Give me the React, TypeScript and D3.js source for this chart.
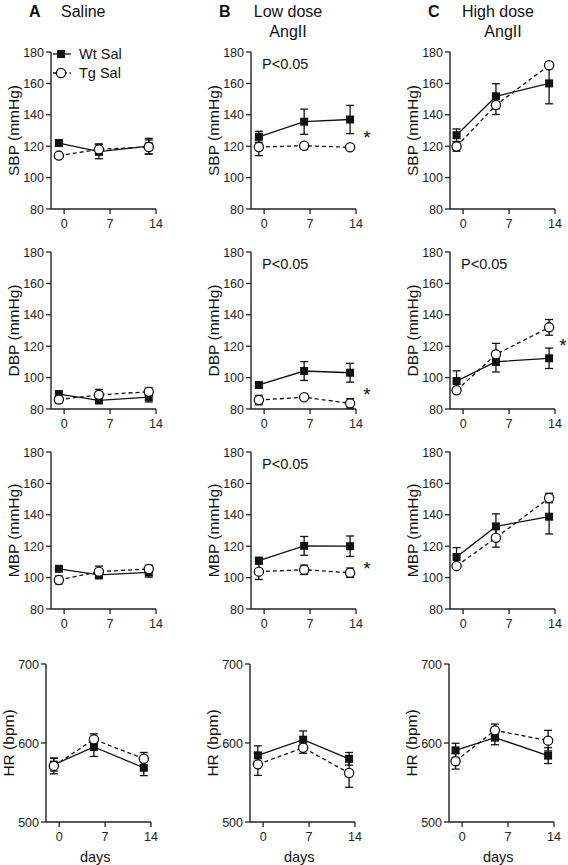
import React from "react";
import * as d3 from "d3";

// ---------- DATA ----------
const columnTitles = ["Saline", "Low dose", "High dose"];
const columnTitles2 = ["", "AngII", "AngII"];
const columnLetters = ["A", "B", "C"];
const seriesNames = ["Wt Sal", "Tg Sal"];
const xTicks = [0, 7, 14];
const bpTicks = [80, 100, 120, 140, 160, 180];
const hrTicks = [500, 600, 700];
const rowLabels = ["SBP (mmHg)", "DBP (mmHg)", "MBP (mmHg)", "HR (bpm)"];

// measurement days (plotted positions) per column
const daysSaline = [-0.8, 5.3, 12.9];
const daysLow = [-0.8, 6.1, 13.1];
const daysHigh = [-1.0, 5.0, 13.1];

const wtSBP = [[122, 116.5, 120], [126, 135.6, 137], [127, 151.8, 160]];
const wtSBPErr = [[2, 4.5, 5], [3.5, 8, 9], [4, 8, 13]];
const tgSBP = [[114, 118, 119.5], [119.5, 120.3, 119.3], [119.8, 146.2, 171.6]];
const tgSBPErr = [[1.5, 3.5, 4.5], [5.5, 2, 1], [3, 6, 2]];

const wtDBP = [[89.5, 85.5, 87.5], [95.3, 104.2, 103.1], [97.8, 110.1, 112.3]];
const wtDBPErr = [[1.5, 2, 3], [1.5, 6, 6], [6.5, 6.5, 6.5]];
const tgDBP = [[86, 89, 91], [85.7, 87.5, 83.6], [91.9, 114.8, 132]];
const tgDBPErr = [[2, 3.5, 2.5], [3, 1.5, 3], [1, 7, 5]];

const wtMBP = [[105.6, 101.7, 103.3], [110.8, 120.2, 120], [113.1, 132.6, 138.8]];
const wtMBPErr = [[1, 2.5, 3], [2, 6, 6.5], [6, 8, 11]];
const tgMBP = [[98.5, 103.8, 105.5], [103.8, 105, 103.1], [107.4, 125.4, 150.7]];
const tgMBPErr = [[2.5, 3.5, 2.5], [5, 3, 3], [1.5, 6, 3]];

const wtHR = [[572.6, 595, 568.7], [584.4, 604.2, 580], [590.7, 606.8, 584]];
const wtHRErr = [[8, 12, 10], [12, 11, 8], [9, 9, 10]];
const tgHR = [[571, 604.6, 580], [573, 594, 562], [577, 616, 603]];
const tgHRErr = [[10, 7, 8], [14, 7, 18], [10, 8, 13]];

// significance annotations: [row, col, star y value]
const pLabelPanels = [[0, 1], [1, 1], [2, 1], [1, 2]];
const starPanels = [[0, 1, 128.5], [1, 1, 92], [2, 1, 108.7], [1, 2, 123.5]];

// ---------- LAYOUT ----------
const W = 568;
const H = 865;
const rowTop = [52, 252, 452, 664];
const rowHeight = [157, 157, 157, 158];
const axisXBP = [51, 251, 450];
const axisXHR = [46, 250, 449];
const xWidth = 105;
const FONT = "Liberation Sans, Arial, Helvetica, sans-serif";

const daysByCol = [daysSaline, daysLow, daysHigh];
const wtByRow = [wtSBP, wtDBP, wtMBP, wtHR];
const wtErrByRow = [wtSBPErr, wtDBPErr, wtMBPErr, wtHRErr];
const tgByRow = [tgSBP, tgDBP, tgMBP, tgHR];
const tgErrByRow = [tgSBPErr, tgDBPErr, tgMBPErr, tgHRErr];

function Marker({ kind, x, y }) {
  if (kind === 0) {
    return <rect x={x - 4} y={y - 4} width={8} height={8} fill="#111" />;
  }
  return <circle cx={x} cy={y} r={4.6} fill="#fff" stroke="#111" strokeWidth={1.3} />;
}

function Panel({ row, col }) {
  const isHR = row === 3;
  const ax = isHR ? axisXHR[col] : axisXBP[col];
  const top = rowTop[row];
  const bottom = top + rowHeight[row];
  const x = d3.scaleLinear().domain([-2, 14]).range([ax, ax + xWidth]);
  const y = d3
    .scaleLinear()
    .domain(isHR ? [500, 700] : [80, 180])
    .range([bottom, top]);
  const yTicks = isHR ? hrTicks : bpTicks;
  const days = daysByCol[col];
  const line = d3
    .line()
    .x((d) => x(d[0]))
    .y((d) => y(d[1]));

  const series = [
    { vals: wtByRow[row][col], errs: wtErrByRow[row][col], dash: null },
    { vals: tgByRow[row][col], errs: tgErrByRow[row][col], dash: "4,3" },
  ];

  const hasP = pLabelPanels.some((p) => p[0] === row && p[1] === col);
  const star = starPanels.find((p) => p[0] === row && p[1] === col);

  return (
    <g>
      {/* axes */}
      <line x1={ax} x2={ax} y1={top} y2={bottom} stroke="#222" strokeWidth={1.4} />
      <line x1={ax} x2={x(14)} y1={bottom} y2={bottom} stroke="#222" strokeWidth={1.4} />
      {yTicks.map((t) => (
        <g key={"y" + t}>
          <line x1={ax - 5} x2={ax} y1={y(t)} y2={y(t)} stroke="#222" strokeWidth={1.3} />
          <text
            x={ax - 7}
            y={y(t)}
            dy="0.36em"
            textAnchor="end"
            fontSize={12.5}
            fontFamily={FONT}
            fill="#222"
          >
            {t}
          </text>
        </g>
      ))}
      {xTicks.map((t) => (
        <g key={"x" + t}>
          <line x1={x(t)} x2={x(t)} y1={bottom} y2={bottom + 5} stroke="#222" strokeWidth={1.3} />
          <text
            x={x(t)}
            y={bottom + 19}
            textAnchor="middle"
            fontSize={12.5}
            fontFamily={FONT}
            fill="#222"
          >
            {t}
          </text>
        </g>
      ))}
      <text
        transform={`translate(${ax - 38},${(top + bottom) / 2}) rotate(-90)`}
        textAnchor="middle"
        dy="0.36em"
        fontSize={15.5}
        fontFamily={FONT}
        fill="#111"
      >
        {rowLabels[row]}
      </text>
      {isHR && (
        <text
          x={x(5.5)}
          y={862}
          textAnchor="middle"
          fontSize={14.5}
          fontFamily={FONT}
          fill="#111"
        >
          days
        </text>
      )}
      {hasP && (
        <text x={ax + 11} y={top + 17} fontSize={14.5} fontFamily={FONT} fill="#111">
          P&lt;0.05
        </text>
      )}
      {star && (
        <text
          x={ax + (col === 1 ? 116 : 113)}
          y={y(star[2]) + 11}
          textAnchor="middle"
          fontSize={19}
          fontFamily={FONT}
          fill="#111"
        >
          *
        </text>
      )}
      {/* series */}
      {series.map((s, si) => {
        const pts = s.vals.map((v, i) => [days[i], v]);
        return (
          <g key={"s" + si}>
            <path
              d={line(pts)}
              fill="none"
              stroke="#111"
              strokeWidth={1.3}
              strokeDasharray={s.dash || undefined}
            />
            {pts.map((p, i) => {
              const cx = x(p[0]);
              const y1 = y(p[1] + s.errs[i]);
              const y2 = y(p[1] - s.errs[i]);
              return (
                <g key={i}>
                  <line x1={cx} x2={cx} y1={y1} y2={y2} stroke="#111" strokeWidth={1.3} />
                  <line x1={cx - 4} x2={cx + 4} y1={y1} y2={y1} stroke="#111" strokeWidth={1.3} />
                  <line x1={cx - 4} x2={cx + 4} y1={y2} y2={y2} stroke="#111" strokeWidth={1.3} />
                </g>
              );
            })}
            {pts.map((p, i) => (
              <Marker key={"m" + i} kind={si} x={x(p[0])} y={y(p[1])} />
            ))}
          </g>
        );
      })}
    </g>
  );
}

export default function App() {
  const rows = [0, 1, 2, 3];
  const cols = [0, 1, 2];
  const letterX = [29, 219, 428];
  const titleX = [61, 288, 498];
  const title2X = [0, 288, 503];
  return (
    <svg
      width={W}
      height={H}
      style={{ position: "absolute", left: 0, top: 0, background: "#fff" }}
      fontFamily={FONT}
    >
      <rect width={W} height={H} fill="#fff" />
      {cols.map((c) => (
        <g key={"t" + c}>
          <text x={letterX[c]} y={17} fontSize={16} fontWeight="bold" fill="#111">
            {columnLetters[c]}
          </text>
          <text
            x={titleX[c]}
            y={17}
            fontSize={16}
            textAnchor={c === 0 ? "start" : "middle"}
            fill="#111"
          >
            {columnTitles[c]}
          </text>
          {columnTitles2[c] && (
            <text x={title2X[c]} y={37} fontSize={16} textAnchor="middle" fill="#111">
              {columnTitles2[c]}
            </text>
          )}
        </g>
      ))}
      {rows.map((r) => cols.map((c) => <Panel key={r + "-" + c} row={r} col={c} />))}
      {/* legend */}
      <g>
        <line x1={53} x2={71} y1={54} y2={54} stroke="#111" strokeWidth={1.3} />
        <Marker kind={0} x={61} y={54} />
        <text x={79} y={54} dy="0.36em" fontSize={14.5} fill="#111">
          {seriesNames[0]}
        </text>
        <line x1={53} x2={71} y1={73} y2={73} stroke="#111" strokeWidth={1.3} strokeDasharray="3,2.5" />
        <Marker kind={1} x={61} y={73} />
        <text x={79} y={73} dy="0.36em" fontSize={14.5} fill="#111">
          {seriesNames[1]}
        </text>
      </g>
    </svg>
  );
}
